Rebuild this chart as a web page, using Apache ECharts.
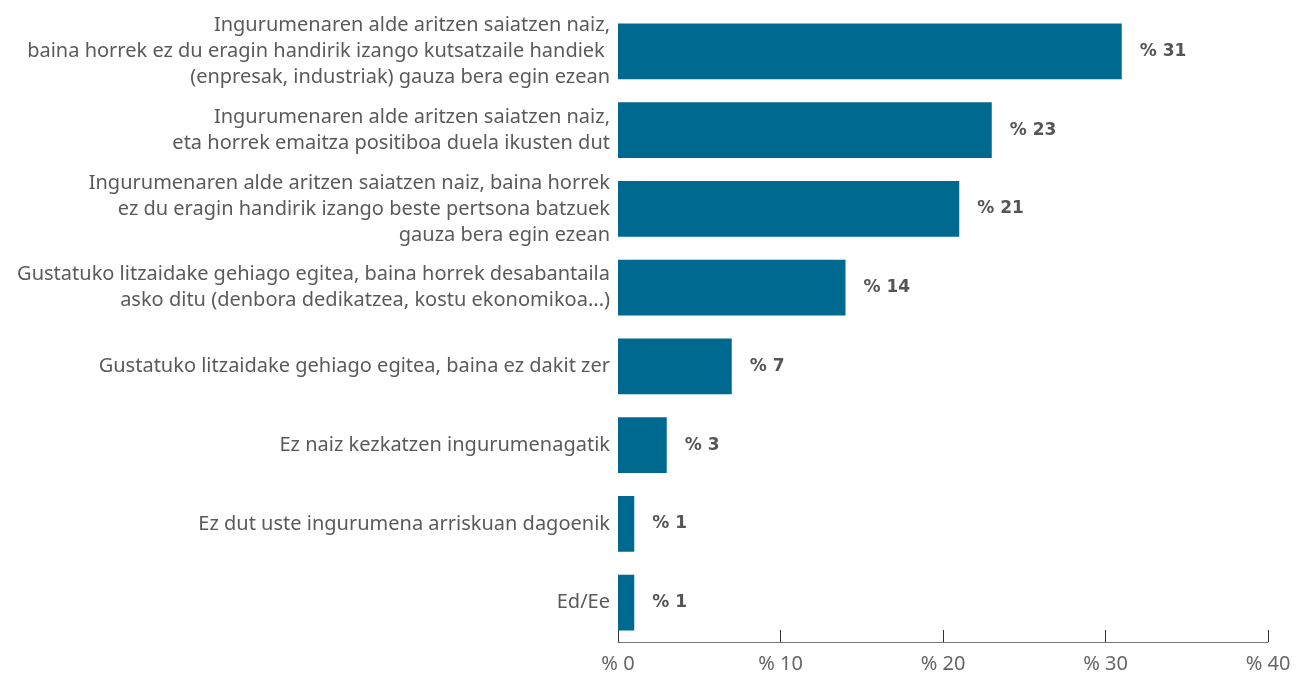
<!DOCTYPE html>
<html>
<head>
<meta charset="utf-8">
<script src="https://cdn.jsdelivr.net/npm/echarts@6/dist/echarts.min.js"></script>
<style>
html,body{margin:0;padding:0;background:#fff}
#chart{width:1298px;height:674px}
</style>
</head>
<body>
<div id="chart"></div>
<script>
// erantzunak (goitik behera)
var categories = [
	'Ingurumenaren alde aritzen saiatzen naiz,\nbaina horrek ez du eragin handirik izango kutsatzaile handiek \n(enpresak, industriak) gauza bera egin ezean',
	'Ingurumenaren alde aritzen saiatzen naiz,\neta horrek emaitza positiboa duela ikusten dut',
	'Ingurumenaren alde aritzen saiatzen naiz, baina horrek\nez du eragin handirik izango beste pertsona batzuek\ngauza bera egin ezean',
	'Gustatuko litzaidake gehiago egitea, baina horrek desabantaila\nasko ditu (denbora dedikatzea, kostu ekonomikoa...)',
	'Gustatuko litzaidake gehiago egitea, baina ez dakit zer',
	'Ez naiz kezkatzen ingurumenagatik',
	'Ez dut uste ingurumena arriskuan dagoenik',
	'Ed/Ee'
]
var values = [31, 23, 21, 14, 7, 3, 1, 1]
var xTicks = [0, 10, 20, 30, 40]

var chart = echarts.init(document.getElementById('chart'))
var option = {
	animation: false,
	grid: {
		top: 12,
		left: 618,
		right: 30,
		bottom: 30,
		containLabel: false
	},
	xAxis: {
		type: 'value',
		min: xTicks[0],
		max: xTicks[xTicks.length - 1],
		interval: 10,
		splitLine: { show: false },
		axisLine: { show: true, lineStyle: { color: '#777', width: 1 } },
		axisTick: { show: true, inside: true, length: 12, lineStyle: { color: '#333' } },
		axisLabel: {
			margin: 12,
			color: '#666',
			fontFamily: 'Noto Sans',
			fontSize: 20,
			formatter: function (v) { return '% ' + v }
		}
	},
	yAxis: {
		type: 'category',
		inverse: true,
		data: categories,
		axisLine: { show: false },
		axisTick: { show: false },
		axisLabel: {
			margin: 8,
			color: '#5a5a5a',
			fontFamily: 'Noto Sans',
			fontSize: 20,
			lineHeight: 26,
			align: 'right'
		}
	},
	series: [{
		type: 'bar',
		data: values,
		barCategoryGap: '29%',
		itemStyle: { color: '#00698f' },
		label: {
			show: true,
			position: 'right',
			distance: 18,
			color: '#555',
			fontFamily: 'DejaVu Sans',
			fontWeight: 'bold',
			fontSize: 17,
			formatter: function (p) { return '% ' + p.value }
		}
	}]
}
chart.setOption(option)
</script>
</body>
</html>
